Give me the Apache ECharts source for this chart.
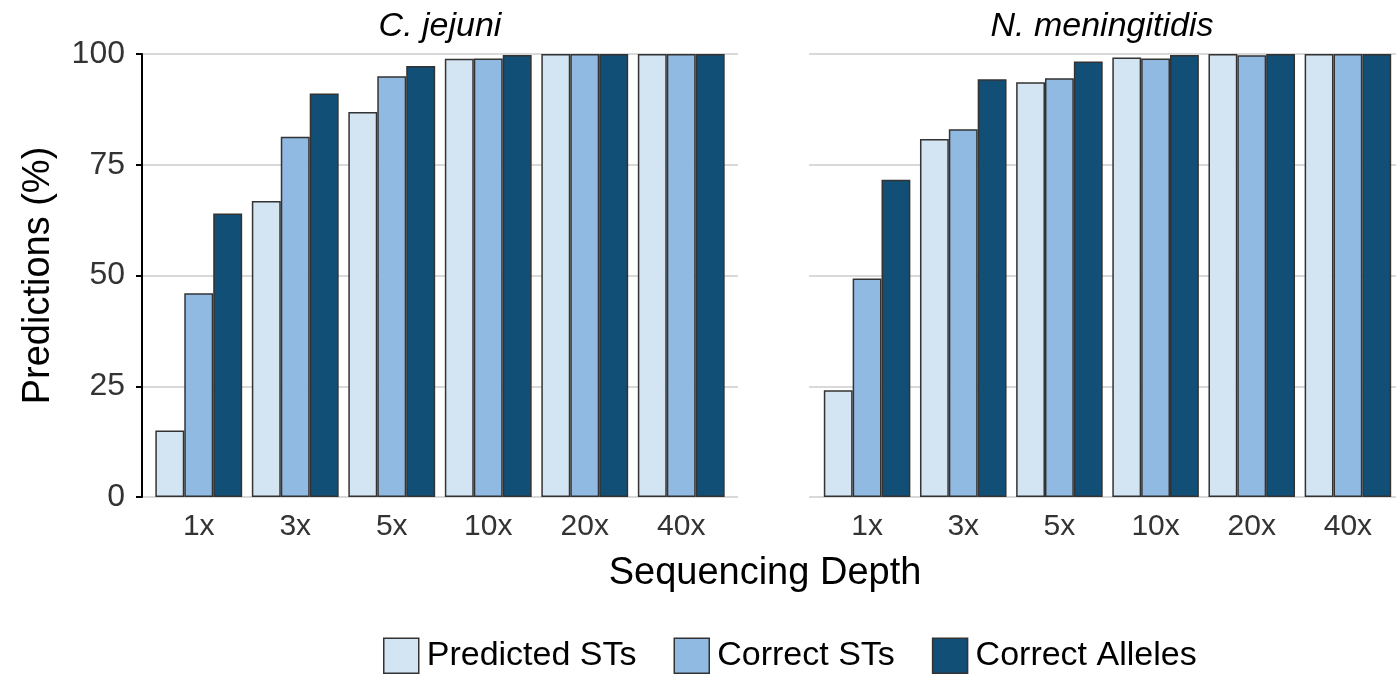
<!DOCTYPE html>
<html>
<head>
<meta charset="utf-8">
<script src="https://cdn.jsdelivr.net/npm/echarts@6/dist/echarts.min.js"></script>
<style>
html,body{margin:0;padding:0;background:#fff;}
#chart{width:1396px;height:677px;}
</style>
</head>
<body>
<div id="chart"></div>
<script>
const categories = ['1x', '3x', '5x', '10x', '20x', '40x'];
const panelTitles = ['C. jejuni', 'N. meningitidis'];
const seriesNames = ['Predicted STs', 'Correct STs', 'Correct Alleles'];
const yTicks = [0, 25, 50, 75, 100];

const cjPredicted = [15.0, 66.8, 86.9, 98.9, 100, 100];
const cjCorrectST = [46.0, 81.3, 95.0, 99.0, 100, 100];
const cjAlleles   = [64.0, 91.1, 97.3, 99.8, 100, 100];

const nmPredicted = [24.1, 80.8, 93.6, 99.2, 100, 100];
const nmCorrectST = [49.3, 83.0, 94.5, 99.0, 99.7, 100];
const nmAlleles   = [71.6, 94.3, 98.3, 99.8, 100, 100];

const colors = ['#d3e5f3', '#91bae3', '#114f76'];
const FONT = '"Liberation Sans", Arial, sans-serif';

const panels = [[cjPredicted, cjCorrectST, cjAlleles], [nmPredicted, nmCorrectST, nmAlleles]];

const TOP = 54, H = 443;
const grids = [
  {left: 142, width: 596, top: TOP, height: H},   // bg left
  {left: 150.5, width: 579, top: TOP, height: H}, // bars left
  {left: 809, width: 600, top: TOP, height: H},   // bg right
  {left: 819, width: 578, top: TOP, height: H}    // bars right
];

const xAxes = [], yAxes = [];
for (let p = 0; p < 2; p++) {
  const bg = p * 2, bar = p * 2 + 1;
  xAxes.push({gridIndex: bg, type: 'value', min: 0, max: 1, show: false});
  yAxes.push({
    gridIndex: bg, type: 'value', min: yTicks[0], max: yTicks[yTicks.length - 1], interval: 25,
    axisLine: {show: p === 0, lineStyle: {color: '#000', width: 2}},
    axisTick: {show: p === 0, length: 6, lineStyle: {color: '#000', width: 2}},
    axisLabel: {show: p === 0, fontSize: 32, color: '#333', margin: 17, fontFamily: FONT},
    splitLine: {show: true, lineStyle: {color: '#cccccc', width: 1.5}},
    name: p === 0 ? 'Predictions (%)' : '',
    nameLocation: 'middle', nameGap: 84,
    nameTextStyle: {fontSize: 38, color: '#000', fontFamily: FONT}
  });
  xAxes.push({
    gridIndex: bar, type: 'category', data: categories,
    axisLine: {show: false}, axisTick: {show: false},
    axisLabel: {fontSize: 30, color: '#333', margin: 15, fontFamily: FONT}
  });
  yAxes.push({gridIndex: bar, type: 'value', min: 0, max: 100, show: false, splitLine: {show: false}});
}

const series = [];
for (let p = 0; p < 2; p++) {
  for (let s = 0; s < 3; s++) {
    series.push({
      name: seriesNames[s], type: 'bar',
      xAxisIndex: p * 2 + 1, yAxisIndex: p * 2 + 1,
      data: panels[p][s],
      barGap: '0%', barCategoryGap: '10%',
      itemStyle: {color: colors[s], borderColor: '#333', borderWidth: 1.5},
      emphasis: {disabled: true}
    });
  }
}

const chart = echarts.init(document.getElementById('chart'), null, {renderer: 'canvas'});
chart.setOption({
  animation: false,
  backgroundColor: '#fff',
  color: colors,
  grid: grids,
  xAxis: xAxes,
  yAxis: yAxes,
  series: series,
  legend: {
    data: seriesNames, bottom: -2, left: 378,
    icon: 'rect', itemWidth: 35, itemHeight: 35, itemGap: 37,
    textStyle: {fontSize: 34, color: '#000', fontFamily: FONT, padding: [0, 0, 0, 3]},
    itemStyle: {borderColor: '#333', borderWidth: 1.5}
  },
  graphic: [
    {type: 'text', x: 440, y: 27, style: {text: panelTitles[0], font: 'italic 34px ' + FONT, fill: '#000', textAlign: 'center', textVerticalAlign: 'middle'}},
    {type: 'text', x: 1102, y: 27, style: {text: panelTitles[1], font: 'italic 34px ' + FONT, fill: '#000', textAlign: 'center', textVerticalAlign: 'middle'}},
    {type: 'text', x: 765, y: 574, style: {text: 'Sequencing Depth', font: '38px ' + FONT, fill: '#000', textAlign: 'center', textVerticalAlign: 'middle'}}
  ]
});
</script>
</body>
</html>
